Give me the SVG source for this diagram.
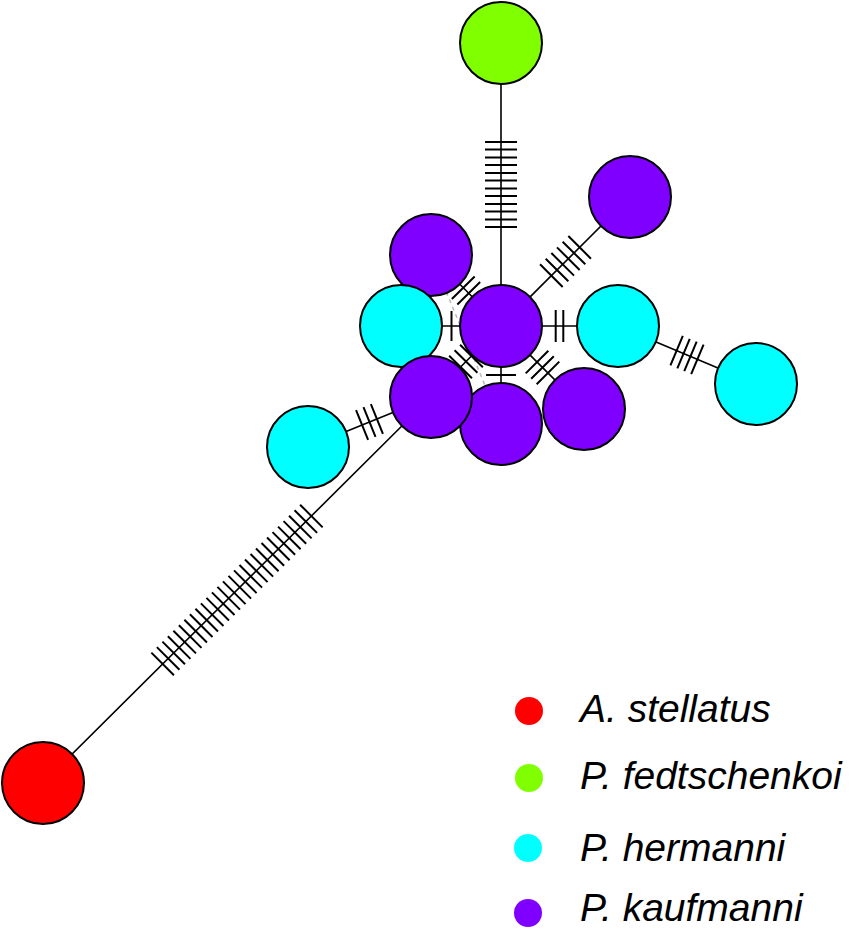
<svg xmlns="http://www.w3.org/2000/svg" width="850" height="930" viewBox="0 0 850 930">
<style>
.e{stroke:#000;stroke-width:1.6;fill:none}
.t{stroke:#000;stroke-width:2;fill:none}
.d{stroke:#bbb;stroke-width:1.5;stroke-dasharray:4 4;fill:none}
.n{stroke:#000;stroke-width:2}
.pk{fill:#7f00ff}.ph{fill:#00ffff}.pf{fill:#80ff00}.as{fill:#ff0000}
.lg{font-family:"Liberation Sans",Arial,sans-serif;font-style:italic;font-size:39px;fill:#000}
</style>
<rect width="850" height="930" fill="#fff"/>
<g id="connectors">
  <path class="d" d="M431 255L501 424"/>
  <path class="e" d="M501 43V326M501 326L630 197M618 326L756 384M308 447L431 397M43 783L431 397M401 326H618M501 326L431 255M501 326L431 397M501 326V424M501 326L584 409"/>
  <g class="t">
    <g transform="translate(501,184.5) rotate(90)"><path d="M-42.6 -16v32M-34.9 -16v32M-27.1 -16v32M-19.4 -16v32M-11.6 -16v32M-3.9 -16v32M3.9 -16v32M11.6 -16v32M19.4 -16v32M27.1 -16v32M34.9 -16v32M42.6 -16v32"/></g>
    <g transform="translate(565.5,261.5) rotate(-45)"><path d="M-20 -16v32M-12 -16v32M-4 -16v32M4 -16v32M12 -16v32M20 -16v32"/></g>
    <g transform="translate(687,355) rotate(22.8)"><path d="M-11.25 -16v32M-3.75 -16v32M3.75 -16v32M11.25 -16v32"/></g>
    <g transform="translate(369.5,422) rotate(-22.1)"><path d="M-8 -16v32M0 -16v32M8 -16v32"/></g>
    <g transform="translate(237,590) rotate(-44.85)"><path d="M-104.9 -16v32M-97.1 -16v32M-89.3 -16v32M-81.6 -16v32M-73.8 -16v32M-66 -16v32M-58.3 -16v32M-50.5 -16v32M-42.7 -16v32M-35 -16v32M-27.2 -16v32M-19.4 -16v32M-11.7 -16v32M-3.9 -16v32M3.9 -16v32M11.7 -16v32M19.4 -16v32M27.2 -16v32M35 -16v32M42.7 -16v32M50.5 -16v32M58.3 -16v32M66 -16v32M73.8 -16v32M81.6 -16v32M89.3 -16v32M97.1 -16v32M104.9 -16v32"/></g>
    <g transform="translate(559.5,326)"><path d="M-3.8 -16v32M3.8 -16v32"/></g>
    <g transform="translate(451.5,326)"><path d="M0 -15v30"/></g>
    <g transform="translate(466,290.5) rotate(45.4)"><path d="M-3.9 -16v32M3.9 -16v32"/></g>
    <g transform="translate(466,361.5) rotate(-45.4)"><path d="M-7.75 -16v32M0 -16v32M7.75 -16v32"/></g>
    <g transform="translate(501,375)"><path d="M-15 0h30"/></g>
    <g transform="translate(542.5,367.5) rotate(45)"><path d="M-7.75 -16v32M0 -16v32M7.75 -16v32"/></g>
  </g>
</g>
<g id="n-fedtschenkoi"><circle class="n pf" cx="501" cy="43" r="41"/></g>
<g id="n-kauf-tr"><circle class="n pk" cx="630" cy="197" r="41"/></g>
<g id="n-kauf-ul"><circle class="n pk" cx="431" cy="255" r="41"/></g>
<g id="n-herm-l"><circle class="n ph" cx="401" cy="326" r="41"/></g>
<g id="n-herm-r"><circle class="n ph" cx="618" cy="326" r="41"/></g>
<g id="n-herm-fr"><circle class="n ph" cx="756" cy="384" r="41"/></g>
<g id="n-herm-ll"><circle class="n ph" cx="308" cy="447" r="41"/></g>
<g id="n-kauf-lr"><circle class="n pk" cx="584" cy="409" r="41"/></g>
<g id="n-kauf-b"><circle class="n pk" cx="501" cy="424" r="41"/></g>
<g id="n-kauf-ll"><circle class="n pk" cx="431" cy="397" r="41"/></g>
<g id="n-hub"><circle class="n pk" cx="501" cy="326" r="41"/></g>
<g id="n-stellatus"><circle class="n as" cx="43" cy="783" r="41"/></g>
<g id="legend">
  <circle class="as" cx="529" cy="711" r="14"/>
  <circle class="pf" cx="529" cy="778" r="14"/>
  <circle class="ph" cx="528" cy="848" r="14"/>
  <circle class="pk" cx="528" cy="913" r="14"/>
  <text class="lg" x="580" y="722">A. stellatus</text>
  <text class="lg" x="580" y="789">P. fedtschenkoi</text>
  <text class="lg" x="580" y="861">P. hermanni</text>
  <text class="lg" x="580" y="921">P. kaufmanni</text>
</g>
</svg>
